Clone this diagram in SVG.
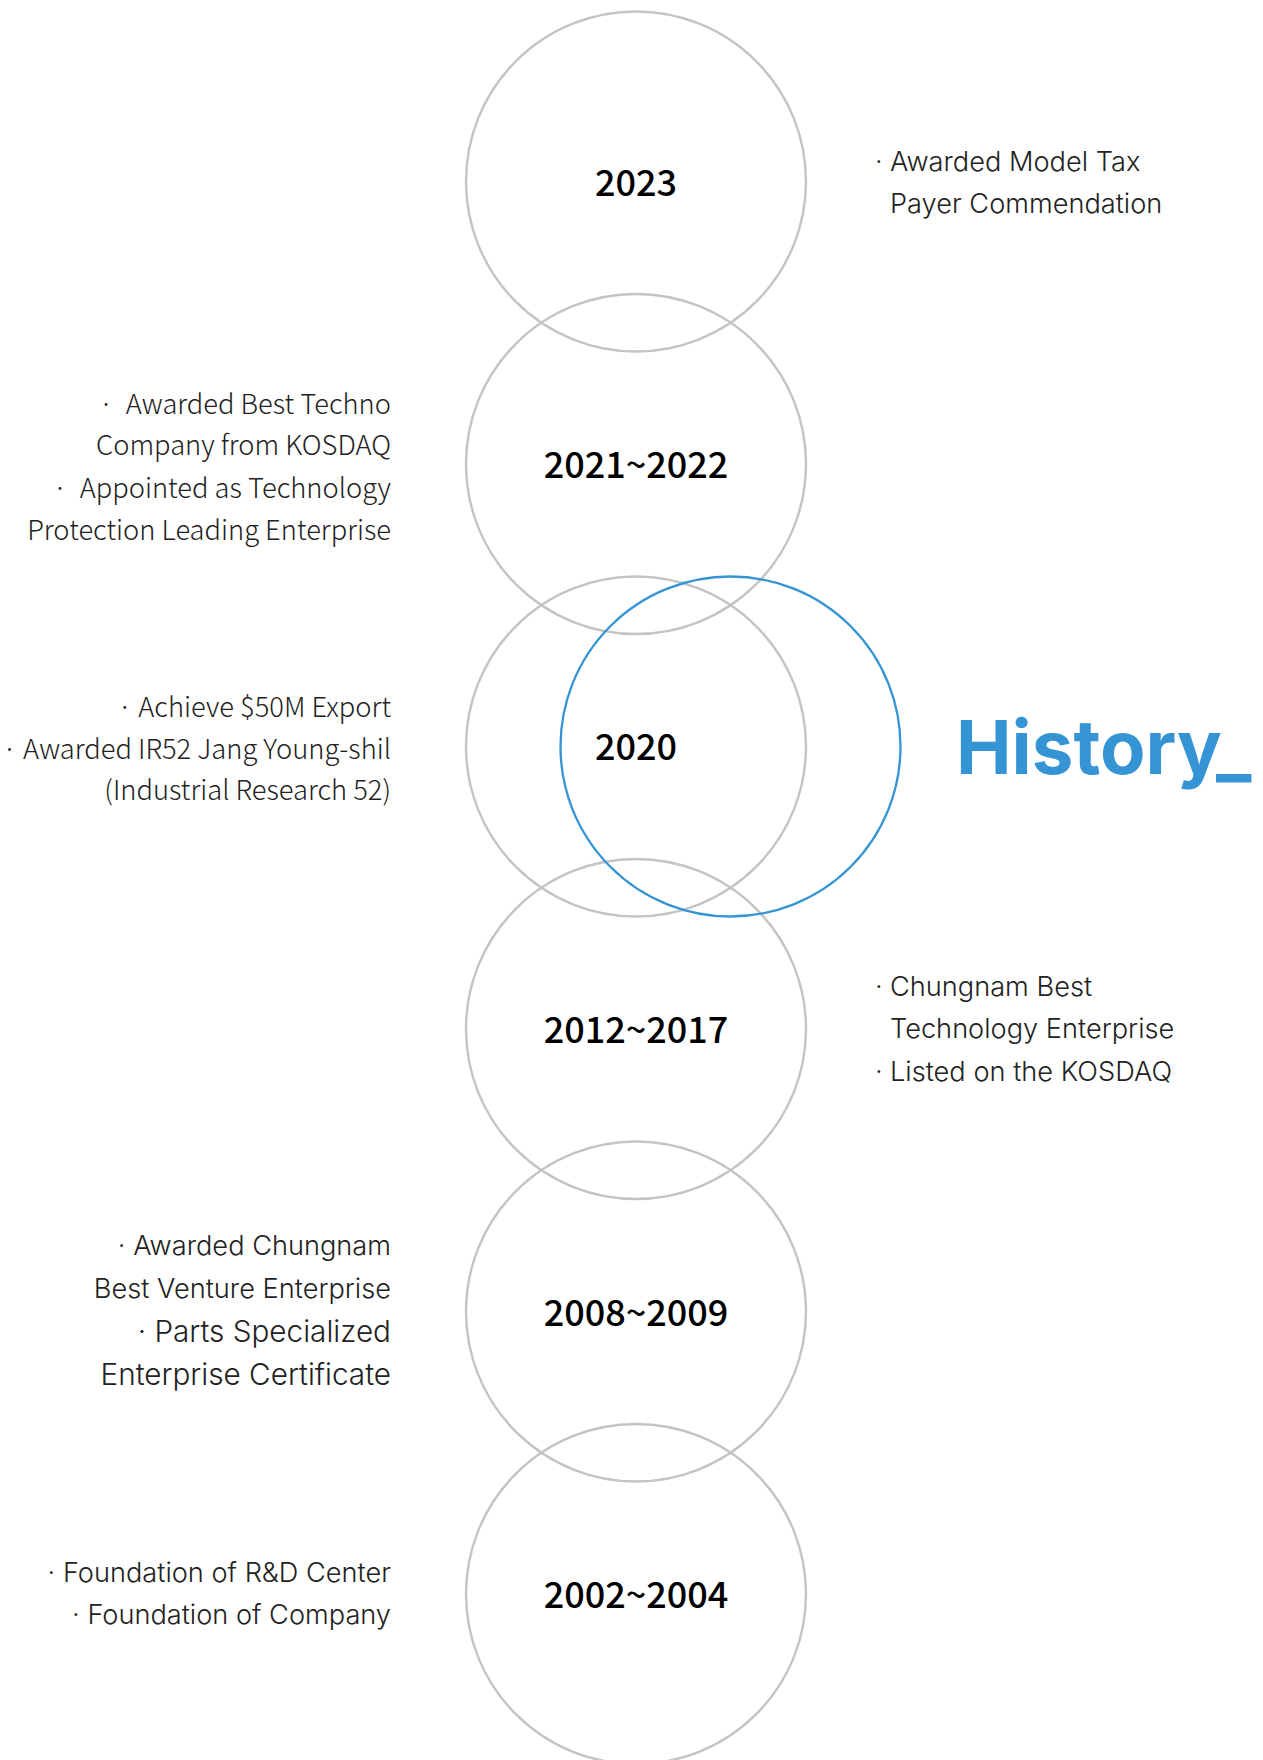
<svg xmlns="http://www.w3.org/2000/svg" width="1263" height="1760" viewBox="0 0 1263 1760">
  <style>
    .ring { fill: none; stroke: #c4c4c4; stroke-width: 2.4; }
    .ring-hl { fill: none; stroke: #3494d4; stroke-width: 2.3; }
    .year { font-family: "Noto Sans CJK KR", "Noto Sans", sans-serif; font-weight: 500; font-size: 36px; fill: #000; text-anchor: middle; }
    .desc { font-family: Inter, "Liberation Sans", sans-serif; font-weight: 300; font-size: 27.2px; fill: #222; }
    .desc-lg { font-family: Inter, "Liberation Sans", sans-serif; font-weight: 300; font-size: 29.7px; fill: #222; }
    .desc-kr { font-family: "Noto Sans CJK KR", "Noto Sans", sans-serif; font-weight: 300; font-size: 27.3px; fill: #222; }
    .end { text-anchor: end; }
    .title { font-family: Inter, "Liberation Sans", sans-serif; font-weight: 700; font-size: 74.4px; fill: #3494d4; }
  </style>
  <rect width="1263" height="1760" fill="#fff"/>

  <g id="node-2023">
    <circle class="ring" cx="636" cy="181.5" r="170"/>
    <text class="year" x="636" y="196">2023</text>
    <text class="desc" x="875" y="171">·</text>
    <text class="desc" x="890" y="171">Awarded Model Tax</text>
    <text class="desc" x="890" y="213">Payer Commendation</text>
  </g>

  <g id="node-2021-2022">
    <circle class="ring" cx="636" cy="464" r="170"/>
    <text class="year" x="636" y="478">2021~2022</text>
    <text class="desc-kr end" x="391" y="414">· &#160;Awarded Best Techno</text>
    <text class="desc-kr end" x="391" y="455">Company from KOSDAQ</text>
    <text class="desc-kr end" x="391" y="498">· &#160;Appointed as Technology</text>
    <text class="desc-kr end" x="391" y="540">Protection Leading Enterprise</text>
  </g>

  <g id="node-2020">
    <circle class="ring" cx="636" cy="746.5" r="170"/>
    <text class="year" x="636" y="760">2020</text>
    <text class="desc-kr end" x="391" y="717">· Achieve $50M Export</text>
    <text class="desc-kr end" x="391" y="759">· Awarded IR52 Jang Young-shil</text>
    <text class="desc-kr end" x="391" y="800">(Industrial Research 52)</text>
  </g>

  <g id="node-2012-2017">
    <circle class="ring" cx="636" cy="1029" r="170"/>
    <text class="year" x="636" y="1043">2012~2017</text>
    <text class="desc" x="875" y="996">·</text>
    <text class="desc" x="890" y="996">Chungnam Best</text>
    <text class="desc" x="890" y="1038">Technology Enterprise</text>
    <text class="desc" x="875" y="1081">·</text>
    <text class="desc" x="890" y="1081">Listed on the KOSDAQ</text>
  </g>

  <g id="node-2008-2009">
    <circle class="ring" cx="636" cy="1311.5" r="170"/>
    <text class="year" x="636" y="1326">2008~2009</text>
    <text class="desc end" x="391" y="1255">· Awarded Chungnam</text>
    <text class="desc end" x="391" y="1298">Best Venture Enterprise</text>
    <text class="desc-lg end" x="391" y="1342">· Parts Specialized</text>
    <text class="desc-lg end" x="391" y="1385">Enterprise Certificate</text>
  </g>

  <g id="node-2002-2004">
    <circle class="ring" cx="636" cy="1594" r="170"/>
    <text class="year" x="636" y="1608">2002~2004</text>
    <text class="desc end" x="391" y="1582">· Foundation of R&amp;D Center</text>
    <text class="desc end" x="391" y="1624">· Foundation of Company</text>
  </g>

  <g id="highlight">
    <circle class="ring-hl" cx="730.5" cy="746.5" r="170"/>
  </g>

  <g id="title">
    <text class="title" x="956" y="774">History_</text>
  </g>
</svg>
